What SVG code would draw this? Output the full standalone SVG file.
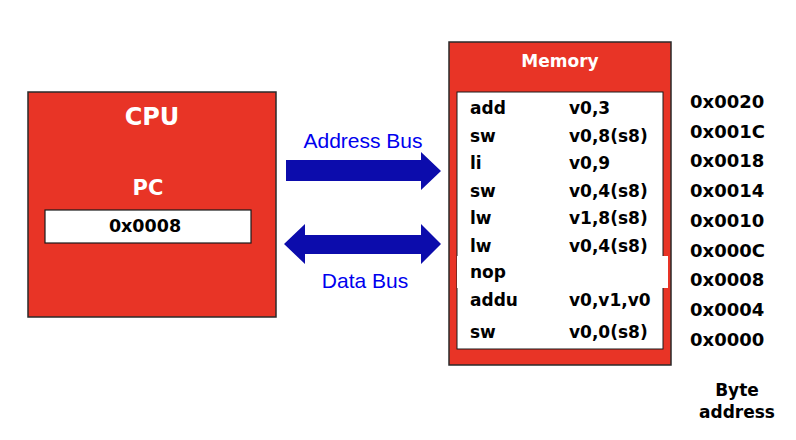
<svg xmlns="http://www.w3.org/2000/svg" width="796" height="440" viewBox="0 0 796 440">
<style>
.box{fill:#e83426;stroke:#2a2a2a;stroke-width:1.5}
.reg{fill:#ffffff;stroke:#1a1a1a;stroke-width:1.2}
.b{font-family:"DejaVu Sans",Verdana,sans-serif;font-weight:bold;font-size:17px;fill:#000}
.a{font-size:18px}
.w{fill:#fff}
.lbl{font-family:"Liberation Sans",Arial,sans-serif;font-size:21px;fill:#0000ee}
.bus{fill:#0c0cac}
</style>
<rect width="796" height="440" fill="#fff"/>
<g id="cpu">
<rect class="box" x="28" y="92" width="248" height="225"/>
<text class="b w" x="152" y="125" text-anchor="middle" style="font-size:24px">CPU</text>
<text class="b w" x="148" y="195" text-anchor="middle" style="font-size:21px">PC</text>
<rect class="reg" x="45" y="210" width="206" height="33"/>
<text class="b" x="145" y="232" text-anchor="middle" style="font-size:17.5px">0x0008</text>
</g>
<g id="memory">
<rect class="box" x="449" y="42" width="222" height="323"/>
<text class="b w" x="560" y="67" text-anchor="middle">Memory</text>
<rect x="457" y="92" width="206" height="257" fill="#fff" stroke="#1a1a1a" stroke-width="1"/>
<rect x="457" y="256" width="211" height="32" fill="#fff"/>
<g class="b">
<text x="470" y="114">add</text><text x="569" y="114">v0,3</text>
<text x="470" y="142">sw</text><text x="569" y="142">v0,8(s8)</text>
<text x="470" y="169">li</text><text x="569" y="169">v0,9</text>
<text x="470" y="197">sw</text><text x="569" y="197">v0,4(s8)</text>
<text x="470" y="224">lw</text><text x="569" y="224">v1,8(s8)</text>
<text x="470" y="252">lw</text><text x="569" y="252">v0,4(s8)</text>
<text x="470" y="278">nop</text>
<text x="470" y="306">addu</text><text x="569" y="306">v0,v1,v0</text>
<text x="470" y="338">sw</text><text x="569" y="338">v0,0(s8)</text>
</g>
</g>
<g id="addresses" class="b">
<text class="a" x="690" y="108">0x0020</text>
<text class="a" x="690" y="138">0x001C</text>
<text class="a" x="690" y="167">0x0018</text>
<text class="a" x="690" y="197">0x0014</text>
<text class="a" x="690" y="227">0x0010</text>
<text class="a" x="690" y="257">0x000C</text>
<text class="a" x="690" y="286">0x0008</text>
<text class="a" x="690" y="316">0x0004</text>
<text class="a" x="690" y="346">0x0000</text>
<text x="737" y="396" text-anchor="middle">Byte</text>
<text x="737" y="418" text-anchor="middle">address</text>
</g>
<g id="connectors">
<g id="address-bus">
<polygon class="bus" points="286,160 421,160 421,152 441,171 421,190 421,181 286,181"/>
<text class="lbl" x="363" y="148" text-anchor="middle">Address Bus</text>
</g>
<g id="data-bus">
<polygon class="bus" points="284,244 305,224 305,235 421,235 421,224 441,244 421,264 421,254 305,254 305,264"/>
<text class="lbl" x="365" y="288" text-anchor="middle">Data Bus</text>
</g>
</g>
</svg>
